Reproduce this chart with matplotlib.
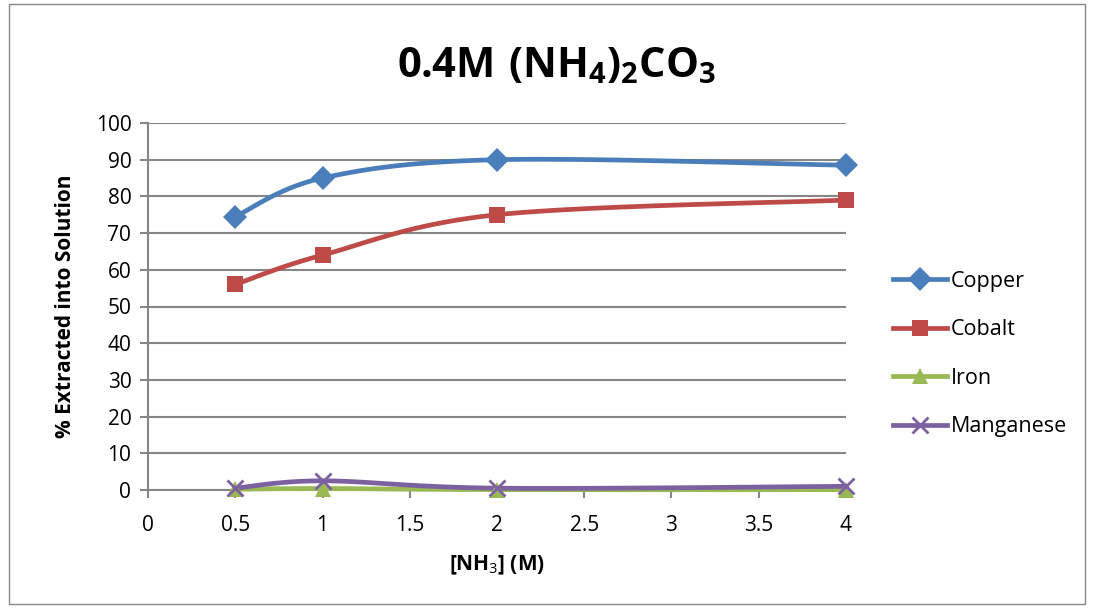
import numpy as np
import matplotlib.pyplot as plt
from matplotlib.patches import Rectangle

plt.rcParams['font.family'] = ['Open Sans', 'DejaVu Sans']
plt.rcParams['mathtext.fontset'] = 'custom'
plt.rcParams['mathtext.rm'] = 'Open Sans'
plt.rcParams['mathtext.bf'] = 'Open Sans:bold'

# data
nh3 = [0.5, 1, 2, 4]
copper = [74.5, 85, 90, 88.5]
cobalt = [56, 64, 75, 79]
iron = [0.2, 0.4, 0.1, 0.1]
manganese = [0.5, 2.5, 0.5, 1.0]

series = [
    ('Copper', copper, '#4A7EBB', 'D', 12),
    ('Cobalt', cobalt, '#BE4B48', 's', 11),
    ('Iron', iron, '#98B954', '^', 12),
    ('Manganese', manganese, '#7D60A0', 'x', 12),
]


def smooth(x, y, sx=698 / 4, sy=367 / 100, n=40):
    # Excel style smoothed line: Bezier segments with Catmull-Rom control points
    p = np.column_stack([np.array(x) * sx, np.array(y) * sy])
    pts = []
    for i in range(len(p) - 1):
        p0 = p[i - 1] if i > 0 else p[i]
        p3 = p[i + 2] if i + 2 < len(p) else p[i + 1]
        c1 = p[i] + (p[i + 1] - p0) / 6
        c2 = p[i + 1] - (p3 - p[i]) / 6
        t = np.linspace(0, 1, n)[:, None]
        seg = ((1 - t) ** 3) * p[i] + 3 * ((1 - t) ** 2) * t * c1 \
            + 3 * (1 - t) * t ** 2 * c2 + t ** 3 * p[i + 1]
        pts.append(seg)
    pts = np.vstack(pts)
    return pts[:, 0] / sx, pts[:, 1] / sy


fig = plt.figure(figsize=(10.93, 6.08), dpi=100)
fig.patches.append(Rectangle((9 / 1093, 4 / 608), 1076 / 1093, 600 / 608,
                             transform=fig.transFigure, fill=False,
                             edgecolor='#868686', linewidth=1))
ax = fig.add_axes([148 / 1093, 1 - 490 / 608, 698 / 1093, 367 / 608])

for name, vals, color, marker, ms in series:
    xs, ys = smooth(nh3, vals)
    ax.plot(xs, ys, color=color, linewidth=3.4, solid_capstyle='round',
            clip_on=False, zorder=3)
    mew = 2 if marker == 'x' else 0
    ax.plot(nh3, vals, linestyle='none', marker=marker, markersize=ms,
            color=color, markeredgewidth=mew, clip_on=False, zorder=4)
    ax.plot([], [], color=color, linewidth=3.4, marker=marker, markersize=ms,
            markeredgewidth=mew, label=name)

ax.set_xlim(0, 4)
ax.set_ylim(0, 100)
ax.set_xticks(np.arange(0, 4.01, 0.5))
ax.set_xticklabels(['0', '0.5', '1', '1.5', '2', '2.5', '3', '3.5', '4'])
ax.set_yticks(np.arange(0, 101, 10))
ax.grid(axis='y', color='#868686', linewidth=1.5)
ax.set_axisbelow(True)
for s in ['top', 'right']:
    ax.spines[s].set_visible(False)
for s in ['left', 'bottom']:
    ax.spines[s].set_color('#868686')
    ax.spines[s].set_linewidth(1.5)
ax.tick_params(axis='both', colors='#868686', labelcolor='black',
               labelsize=15, length=6, width=1.5)
ax.tick_params(axis='x', pad=12)
ax.tick_params(axis='y', pad=6)

ax.set_xlabel('[NH$_3$] (M)', fontsize=15, fontweight='bold', labelpad=13)
ax.set_ylabel('% Extracted into Solution', fontsize=15, fontweight='bold',
              labelpad=14)
fig.text(557 / 1093, 1 - 66 / 608, r'$\mathbf{0.4M\ (NH_4)_2CO_3}$',
         fontsize=30, ha='center', va='center')

ax.legend(loc='center left', bbox_to_anchor=(893 / 1093, 1 - 354 / 608),
          bbox_transform=fig.transFigure, frameon=False, borderpad=0,
          borderaxespad=0, fontsize=15.5, handlelength=2.5,
          handletextpad=0.2, labelspacing=1.28)

fig.savefig('out.png', dpi=100)
